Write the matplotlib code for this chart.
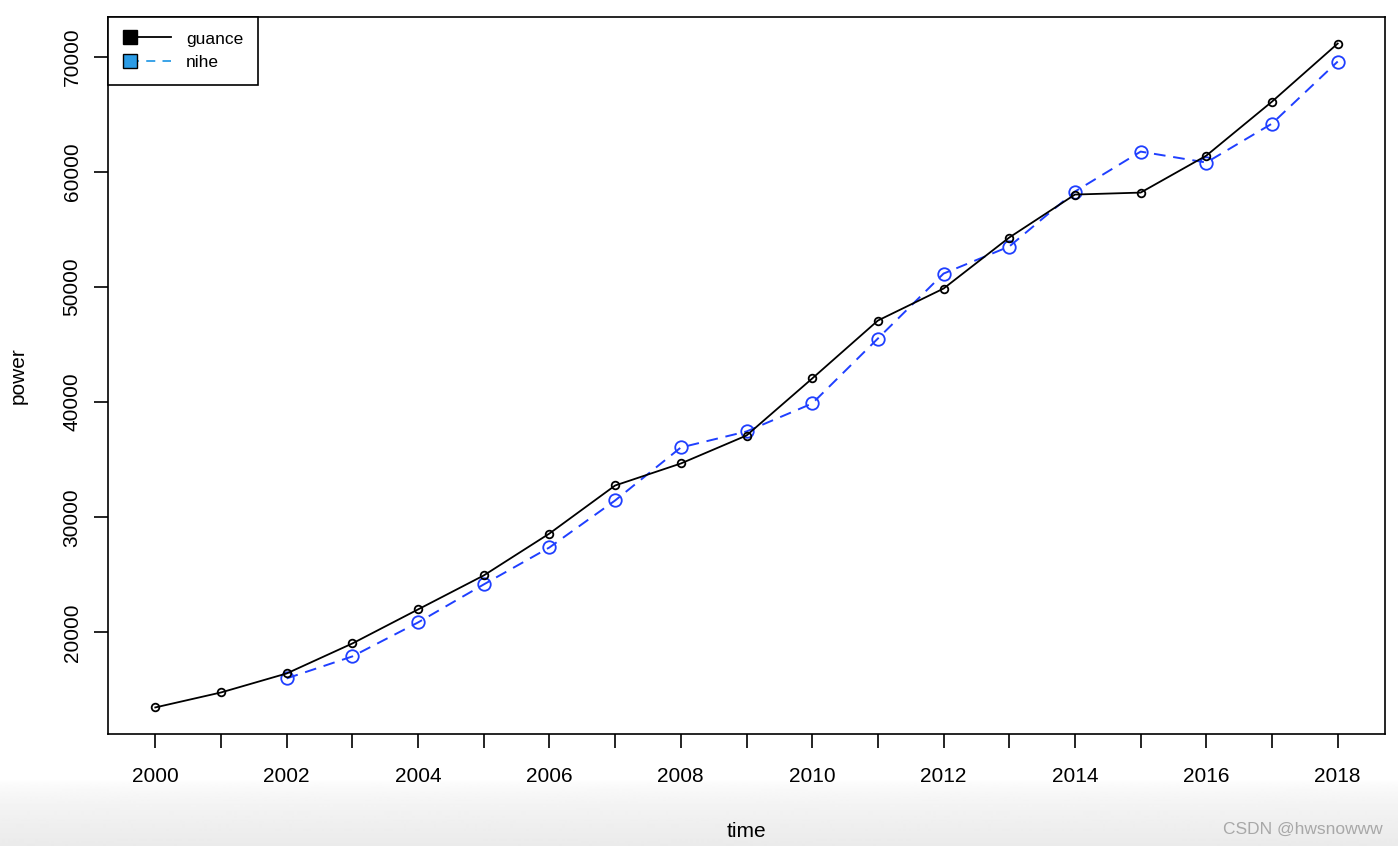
import numpy as np
import matplotlib
matplotlib.use("Agg")
import matplotlib.pyplot as plt
from matplotlib.lines import Line2D
from matplotlib.legend_handler import HandlerBase

plt.rcParams['font.family'] = ['Liberation Sans', 'DejaVu Sans']

years = list(range(2000, 2019))
guance = [13490, 14790, 16440, 19045, 22000, 24950, 28590, 32760, 34670, 37100,
          42050, 47080, 49860, 54290, 58020, 58190, 61400, 66090, 71130]
nihe_years = list(range(2002, 2019))
nihe = [16010, 17920, 20870, 24170, 27380, 31460, 36060, 37450, 39880, 45520,
        51160, 53510, 58280, 61750, 60800, 64180, 69570]
xticks = list(range(2000, 2019, 1))
xticklabels = [str(y) if y % 2 == 0 else "" for y in xticks]
yticks = [20000, 30000, 40000, 50000, 60000, 70000]

W, H = 1398, 846
fig = plt.figure(figsize=(W / 100, H / 100), dpi=100)

# bottom gradient background
bg = fig.add_axes([0, 0, 1, 1], zorder=-10)
grad = np.ones((H, 2))
start = 780
for r in range(start, H):
    t = (r - start) / (H - start)
    grad[r, :] = 1 - 0.08 * t ** 0.6
bg.imshow(grad, cmap='gray', vmin=0, vmax=1, aspect='auto', extent=[0, 1, 0, 1])
bg.axis('off')

ax = fig.add_axes([108 / W, 1 - 734 / H, (1385 - 108) / W, (734 - 17) / H])
ax.patch.set_alpha(0)

ax.plot(years, guance, color='black', lw=1.3, marker='o', ms=5.5,
        mfc='none', mec='black', mew=1.3, zorder=3)
ax.plot(nihe_years, nihe, color='#1f3fff', lw=1.4, ls=(0, (6, 4)), marker='o', ms=9,
        mfc='none', mec='#1f3fff', mew=1.3, zorder=2)

allv = guance + nihe
lo, hi = min(allv), max(allv)
pad = 0.04 * (hi - lo)
ax.set_ylim(lo - pad, hi + pad)
ax.set_xlim(2000 - 0.04 * 18, 2018 + 0.04 * 18)

ax.set_xticks(xticks)
ax.set_xticklabels(xticklabels, fontsize=15)
ax.set_yticks(yticks)
ax.set_yticklabels([str(v) for v in yticks], fontsize=15, rotation=90, va='center')
ax.tick_params(axis='both', direction='out', length=10, width=1.2, color='black')
ax.tick_params(axis='x', pad=14)
ax.tick_params(axis='y', pad=9)
for s in ax.spines.values():
    s.set_linewidth(1.2)

ax.set_xlabel('time', fontsize=15, labelpad=26)
ax.set_ylabel('power', fontsize=15, labelpad=25)


class LeftMarkerHandler(HandlerBase):
    def __init__(self, color, ls, mfc):
        super().__init__()
        self.color, self.ls, self.mfc = color, ls, mfc

    def create_artists(self, legend, orig_handle, xdescent, ydescent, width, height,
                       fontsize, trans):
        y = height / 2 - ydescent
        x0 = -xdescent + 5.5
        line = Line2D([x0, -xdescent + width], [y, y], color=self.color, lw=1.3,
                      ls=self.ls, transform=trans)
        mk = Line2D([x0], [y], marker='s', ms=10, mfc=self.mfc, mec='black', mew=1.0,
                    ls='none', transform=trans)
        return [line, mk]


h1 = Line2D([], [])
h2 = Line2D([], [])
leg = ax.legend([h1, h2], ['guance', 'nihe'], loc='upper left', bbox_to_anchor=(0, 1),
                borderaxespad=0, fancybox=False, edgecolor='black', fontsize=12.5,
                handlelength=2.8, handletextpad=0.86, borderpad=0.83, labelspacing=0.5,
                framealpha=1,
                handler_map={h1: LeftMarkerHandler('black', '-', 'black'),
                             h2: LeftMarkerHandler('#2b9ce6', (0, (5, 4)), '#2b9ce6')})
leg.get_frame().set_linewidth(1.2)

fig.text(1383 / W, 1 - 829 / H, 'CSDN @hwsnowww', ha='right', va='center',
         fontsize=12.5, color='#a8a8a8')

fig.savefig('out.png', dpi=100)
